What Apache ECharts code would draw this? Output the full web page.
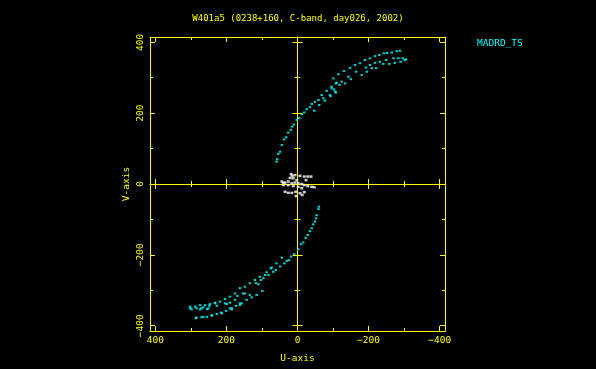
<!DOCTYPE html>
<html>
<head>
<meta charset="utf-8">
<script src="https://cdn.jsdelivr.net/npm/echarts@6/dist/echarts.min.js"></script>
<style>html,body{margin:0;padding:0;background:#000;}#c{width:596px;height:369px;}</style>
</head>
<body>
<div id="c"></div>
<script>
// ---- data (U, V as plotted) ----
const titleText = 'W401a5 (0238+160, C-band, day026, 2002)';
const stationName = 'MADRD_TS';
const majorTicks = [-400, -200, 0, 200, 400];
const minorTicks = [-300, -100, 100, 300];

const upperTrack = [
  [59,63],[57,70],[54,85],[49,91],[44,110],[38,126],[32,132],[26,145],[19,153],[15,162],
  [10,168],[2,181],[-5,186],[-12,197],[-19,202],[-26,211],[-35,217],[-40,226],[-47,207],[-49,232],
  [-59,237],[-61,223],[-68,251],[-73,242],[-77,235],[-82,263],[-93,248],[-96,270],[-103,267],[-108,258],
  [-110,286],[-118,280],[-96,275],[-108,284],[-101,298],[-115,310],[-124,289],[-134,284],[-131,319],[-143,303],
  [-150,296],[-148,328],[-162,336],[-165,317],[-176,341],[-181,308],[-190,350],[-193,329],[-195,317],[-204,355],
  [-204,336],[-209,327],[-218,342],[-221,327],[-230,364],[-232,345],[-241,339],[-243,369],[-249,350],[-258,339],
  [-265,371],[-270,355],[-274,342],[-279,375],[-284,355],[-288,376],[-290,345],[-296,355],[-302,350],[-305,352],
  [-91,251],[-106,261],[-252,370],[-218,361]
];
const lowerTrack = [
  [-60,-64],[-59,-71],[-54,-88],[-52,-97],[-49,-106],[-44,-114],[-40,-125],[-35,-133],[-29,-144],[-23,-152],
  [-16,-165],[-10,-170],[-2,-184],[9,-198],[18,-205],[24,-215],[30,-217],[37,-224],[44,-208],[49,-233],
  [59,-224],[61,-243],[73,-236],[68,-248],[82,-257],[87,-249],[96,-266],[106,-262],[103,-271],[110,-283],
  [117,-280],[99,-302],[75,-238],[91,-257],[120,-271],[134,-280],[148,-290],[162,-294],[176,-309],[190,-318],
  [204,-325],[218,-332],[232,-337],[248,-344],[265,-348],[284,-351],[302,-351],[115,-313],[129,-320],[162,-337],
  [190,-351],[213,-365],[241,-370],[265,-375],[284,-377],[153,-309],[176,-327],[204,-337],[227,-344],[251,-351],
  [274,-354],[298,-354],[302,-346],[288,-346],[274,-342],[270,-351],[260,-342],[254,-353],[246,-339],[232,-335],
  [199,-339],[190,-335],[185,-351],[169,-316],[162,-342],[148,-309],[143,-327],[134,-313],[286,-379],[270,-376],
  [255,-375],[241,-372],[227,-367],[215,-363],[201,-358],[185,-354],[173,-344],[157,-337]
];
const centerPoints = [
  [18,28],[15,23],[7,25],[-7,23],[-19,21],[-29,21],[-38,21],[44,7],[35,4],[26,7],
  [16,2],[7,4],[-2,2],[-12,0],[-19,-3],[-29,-6],[-40,-8],[-47,-9],[40,-3],[26,-3],
  [12,-6],[-2,-8],[-12,-12],[35,-22],[26,-25],[16,-25],[5,-22],[-7,-26],[-13,-31],[12,16],
  [2,11],[21,17],[40,3],[-24,11],[-19,-23],[4,-34]
];

// ---- styling ----
const YEL = '#ffff00';
const CYAN = '#00ffff';
const FONT = 'DejaVu Sans Mono';
const RANGE = 415;
const fmt = v => String(v).replace('-', '\u2212');

function axis(dim, opt) {
  const a = {
    type: 'value', min: -RANGE, max: RANGE, gridIndex: 0,
    position: opt.pos,
    splitLine: { show: false },
    axisLine: { show: !!opt.line, onZero: !!opt.zero, lineStyle: { color: YEL, width: 1 } },
    axisTick: { show: true, inside: opt.inside, length: opt.len, customValues: opt.vals,
                lineStyle: { color: YEL, width: 1 } },
    axisLabel: { show: false }
  };
  if (opt.zero) a.axisLine.onZeroAxisIndex = 0;
  if (dim === 'x') a.inverse = true;
  if (opt.labels) {
    a.axisLabel = { show: true, customValues: majorTicks, formatter: fmt, color: YEL,
                    fontFamily: FONT, fontSize: 9.5, margin: opt.margin, rotate: opt.rotate || 0 };
    a.name = opt.name; a.nameLocation = 'middle'; a.nameGap = opt.nameGap;
    a.nameRotate = opt.nameRotate || 0;
    a.nameTextStyle = { color: YEL, fontFamily: FONT, fontSize: 9.5 };
  }
  return a;
}

const xAxes = [
  axis('x', { pos: 'bottom', line: true, inside: true, len: 5, vals: majorTicks, labels: true, margin: 5, name: 'U-axis', nameGap: 23 }),
  axis('x', { pos: 'bottom', inside: true, len: 3, vals: minorTicks }),
  axis('x', { pos: 'top', line: true, inside: true, len: 5, vals: majorTicks }),
  axis('x', { pos: 'top', inside: true, len: 3, vals: minorTicks }),
  axis('x', { pos: 'bottom', zero: true, line: true, inside: true, len: 5, vals: majorTicks }),
  axis('x', { pos: 'bottom', zero: true, inside: false, len: 5, vals: majorTicks }),
  axis('x', { pos: 'bottom', zero: true, inside: true, len: 3, vals: minorTicks }),
  axis('x', { pos: 'bottom', zero: true, inside: false, len: 3, vals: minorTicks })
];
const yAxes = [
  axis('y', { pos: 'left', line: true, inside: true, len: 5, vals: majorTicks, labels: true, margin: 4, rotate: 90, name: 'V-axis', nameGap: 18, nameRotate: 90 }),
  axis('y', { pos: 'left', inside: true, len: 3, vals: minorTicks }),
  axis('y', { pos: 'right', line: true, inside: true, len: 5, vals: majorTicks }),
  axis('y', { pos: 'right', inside: true, len: 3, vals: minorTicks }),
  axis('y', { pos: 'left', zero: true, line: true, inside: true, len: 5, vals: majorTicks }),
  axis('y', { pos: 'left', zero: true, inside: false, len: 5, vals: majorTicks }),
  axis('y', { pos: 'left', zero: true, inside: true, len: 3, vals: minorTicks }),
  axis('y', { pos: 'left', zero: true, inside: false, len: 3, vals: minorTicks })
];

const chart = echarts.init(document.getElementById('c'), null, { renderer: 'canvas' });
chart.setOption({
  backgroundColor: '#000',
  animation: false,
  title: [
    { text: titleText, left: 'center', top: 9,
      textStyle: { color: YEL, fontFamily: FONT, fontSize: 9, fontWeight: 'normal' } },
    { text: stationName, left: 472, top: 34,
      textStyle: { color: CYAN, fontFamily: FONT, fontSize: 9.5, fontWeight: 'normal' } }
  ],
  grid: { left: 150, right: 151, top: 37, bottom: 38, containLabel: false },
  xAxis: xAxes,
  yAxis: yAxes,
  series: [
    { name: stationName, type: 'scatter', xAxisIndex: 0, yAxisIndex: 0,
      symbol: 'rect', symbolSize: [2.5, 2], itemStyle: { color: CYAN },
      data: upperTrack.concat(lowerTrack), z: 3 },
    { name: 'center', type: 'scatter', xAxisIndex: 0, yAxisIndex: 0,
      symbol: 'rect', symbolSize: [3, 2.5], itemStyle: { color: '#ffffff' },
      data: centerPoints, z: 4 }
  ]
});
</script>
</body>
</html>
